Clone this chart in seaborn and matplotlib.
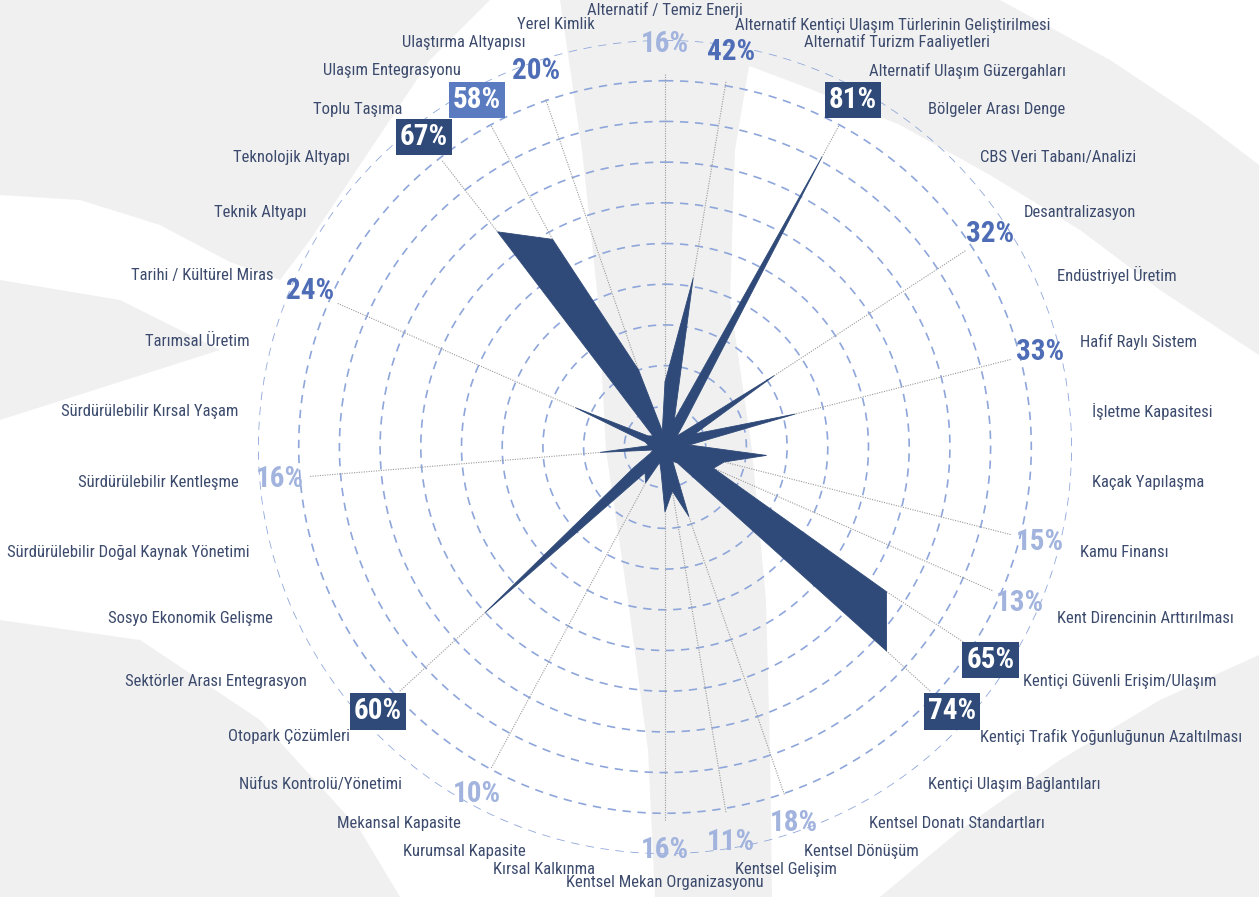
import numpy as np
import matplotlib
matplotlib.use("Agg")
import matplotlib.pyplot as plt
import seaborn as sns
from matplotlib import font_manager as fm
from matplotlib.patches import Polygon

# ---------------- data ----------------
categories = [
    "Alternatif / Temiz Enerji",
    "Alternatif Kentiçi Ulaşım Türlerinin Geliştirilmesi",
    "Alternatif Turizm Faaliyetleri",
    "Alternatif Ulaşım Güzergahları",
    "Bölgeler Arası Denge",
    "CBS Veri Tabanı/Analizi",
    "Desantralizasyon",
    "Endüstriyel Üretim",
    "Hafif Raylı Sistem",
    "İşletme Kapasitesi",
    "Kaçak Yapılaşma",
    "Kamu Finansı",
    "Kent Direncinin Arttırılması",
    "Kentiçi Güvenli Erişim/Ulaşım",
    "Kentiçi Trafik Yoğunluğunun Azaltılması",
    "Kentiçi Ulaşım Bağlantıları",
    "Kentsel Donatı Standartları",
    "Kentsel Dönüşüm",
    "Kentsel Gelişim",
    "Kentsel Mekan Organizasyonu",
    "Kırsal Kalkınma",
    "Kurumsal Kapasite",
    "Mekansal Kapasite",
    "Nüfus Kontrolü/Yönetimi",
    "Otopark Çözümleri",
    "Sektörler Arası Entegrasyon",
    "Sosyo Ekonomik Gelişme",
    "Sürdürülebilir Doğal Kaynak Yönetimi",
    "Sürdürülebilir Kentleşme",
    "Sürdürülebilir Kırsal Yaşam",
    "Tarımsal Üretim",
    "Tarihi / Kültürel Miras",
    "Teknik Altyapı",
    "Teknolojik Altyapı",
    "Toplu Taşıma",
    "Ulaşım Entegrasyonu",
    "Ulaştırma Altyapısı",
    "Yerel Kimlik",
]
values = [16, 42, 7, 81, 8, 4, 32, 8, 33, 6, 25, 15, 13, 65, 74, 5, 4, 18, 11, 16,
          6, 4, 10, 8, 60, 9, 4, 3, 16, 4, 5, 24, 5, 4, 67, 58, 20, 4]
show_label = [1, 1, 0, 1, 0, 0, 1, 0, 1, 0, 0, 1, 1, 1, 1, 0, 0, 1, 1, 1,
              0, 0, 1, 0, 1, 0, 0, 0, 1, 0, 0, 1, 0, 0, 1, 1, 1, 0]
ring_levels = [10, 20, 30, 40, 50, 60, 70, 80, 90, 100]

# ---------------- style ----------------
NAVY = "#2f4a78"
MIDBOX = "#5a7bc0"
BLUE_TXT = "#4f6db6"
LIGHT_TXT = "#a2b4de"
CAT_TXT = "#3c4b6d"
RING = "#8ea6da"
BG_GRAY = "#f0f0f0"

sns.set_theme(style="white")
avail = {f.name for f in fm.fontManager.ttflist}


def pick(*names):
    for n in names:
        if n in avail:
            return n
    return "DejaVu Sans"


FONT = pick("Liberation Sans Narrow", "Roboto Condensed", "Roboto", "Liberation Sans")
plt.rcParams["font.family"] = [FONT, "DejaVu Sans"]

W, H = 1259, 897
CX, CY, R_PX = 665, 447, 407  # centre and outer-ring radius in pixels
fig = plt.figure(figsize=(W / 100, H / 100), dpi=100)
fig.patch.set_facecolor("white")

# ---------------- background watermark shapes ----------------
bg = fig.add_axes([0, 0, 1, 1], zorder=0)
bg.set_xlim(0, W)
bg.set_ylim(H, 0)
bg.axis("off")
bg_shapes = [
    # central vertical lens
    [(560, 0), (582, 150), (598, 300), (606, 450), (628, 600), (648, 750), (655, 897),
     (772, 897), (770, 750), (766, 600), (752, 450), (730, 300), (735, 150), (760, 0)],
    # top arc sweeping to the right
    [(700, 0), (1000, 0), (1110, 60), (1200, 120), (1259, 165), (1259, 355),
     (1160, 290), (1080, 230), (990, 175), (900, 125), (800, 85), (720, 55)],
    # bottom-right sweep
    [(880, 897), (960, 830), (1060, 760), (1160, 700), (1259, 655), (1259, 897)],
    # top-left broad sweep
    [(0, 0), (490, 0), (430, 60), (370, 150), (310, 240), (280, 280), (230, 262),
     (160, 225), (80, 200), (0, 195)],
    # left middle band
    [(0, 280), (120, 300), (220, 350), (0, 420)],
    # bottom-left
    [(0, 620), (140, 640), (260, 720), (360, 830), (400, 897), (0, 897)],
]
for shp in bg_shapes:
    bg.add_patch(Polygon(shp, closed=True, fc=BG_GRAY, ec="none"))

# ---------------- polar radar ----------------
ax = fig.add_axes([(CX - R_PX) / W, (H - CY - R_PX) / H, 2 * R_PX / W, 2 * R_PX / H],
                  projection="polar", zorder=1)
ax.set_facecolor("none")
ax.set_theta_zero_location("N")
ax.set_theta_direction(-1)
ax.set_ylim(0, 100)
ax.grid(False)
ax.spines["polar"].set_visible(False)

n = len(categories)
theta = np.arange(n) * 2 * np.pi / n
px = R_PX / 100.0  # pixels per percent

# dashed rings
tt = np.linspace(0, 2 * np.pi, 721)
for lv in ring_levels:
    ax.plot(tt, np.full_like(tt, lv), color=RING, lw=1.2, ls=(0, (5, 4)), zorder=2)

# leader lines + value labels
for i in range(n):
    if not show_label[i]:
        continue
    th = theta[i]
    v = values[i]
    r_lab_px = 403 - 17 * abs(np.sin(th))
    r_lab = r_lab_px / px
    ax.plot([th, th], [(r_lab_px - 30) / px, v], color="#9a9a9a", lw=0.8,
            ls=(0, (1, 1.2)), zorder=3)
    txt = f"{v}%"
    kw = dict(ha="center", va="center", fontsize=21, fontweight="bold", zorder=6)
    if v >= 60:
        ax.text(th, r_lab, txt, color="white",
                bbox=dict(boxstyle="square,pad=0.14", fc=NAVY, ec="none"), **kw)
    elif v >= 50:
        ax.text(th, r_lab, txt, color="white",
                bbox=dict(boxstyle="square,pad=0.14", fc=MIDBOX, ec="none"), **kw)
    elif v >= 20:
        ax.text(th, r_lab, txt, color=BLUE_TXT, **kw)
    else:
        ax.text(th, r_lab, txt, color=LIGHT_TXT, **kw)

# radar polygon
th_c = np.append(theta, theta[0] + 2 * np.pi)
v_c = np.append(values, values[0])
ax.fill(th_c, v_c, color=NAVY, lw=0, zorder=4)
sns.lineplot(x=th_c, y=v_c, sort=False, estimator=None, ax=ax, color=NAVY, lw=0.6,
             zorder=4)
ax.set_xlabel("")
ax.set_ylabel("")
ax.set_xticks([])
ax.set_yticks([])
ax.set_ylim(0, 100)

# category labels
FS = 12
for i in range(n):
    th = theta[i]
    deg = np.degrees(th)
    if abs(deg) < 1e-6:
        ax.text(th, 437 / px, categories[i], ha="center", va="center", fontsize=FS,
                color=CAT_TXT, zorder=6)
    elif abs(deg - 180) < 1e-6:
        ax.text(th, 435 / px, categories[i], ha="center", va="center", fontsize=FS,
                color=CAT_TXT, zorder=6)
    else:
        ha = "left" if deg < 180 else "right"
        ax.text(th, 428 / px, categories[i], ha=ha, va="center", fontsize=FS,
                color=CAT_TXT, zorder=6)

fig.savefig("out.png", dpi=100, facecolor="white")
